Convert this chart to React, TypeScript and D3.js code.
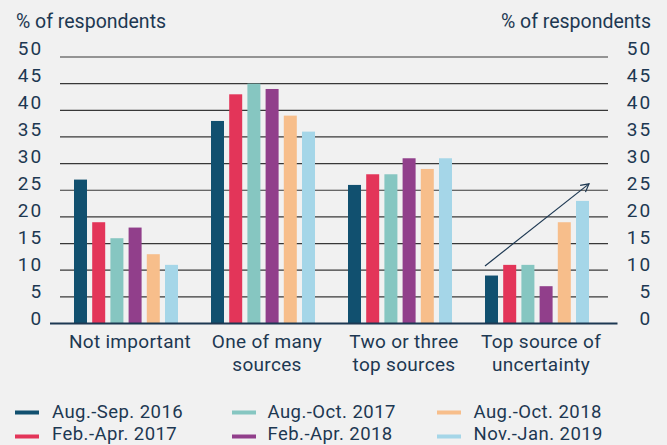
import React from "react";
import * as d3 from "d3";

const categories = [
  ["Not important"],
  ["One of many", "sources"],
  ["Two or three", "top sources"],
  ["Top source of", "uncertainty"],
];
const seriesNames = [
  "Aug.-Sep. 2016",
  "Feb.-Apr. 2017",
  "Aug.-Oct. 2017",
  "Feb.-Apr. 2018",
  "Aug.-Oct. 2018",
  "Nov.-Jan. 2019",
];
const seriesColors = ["#11506f", "#e33559", "#86c6c1", "#913f8b", "#f7be8b", "#a5d6e8"];
const values = [
  [27, 38, 26, 9],
  [19, 43, 28, 11],
  [16, 45, 28, 11],
  [18, 44, 31, 7],
  [13, 39, 29, 19],
  [11, 36, 31, 23],
];
const yTicks = [0, 5, 10, 15, 20, 25, 30, 35, 40, 45, 50];
// trend arrow over the last category: from first series to last series
const arrowFrom = { cat: 3, series: 0, value: 10.8 };
const arrowTo = { cat: 3, series: 5, value: 26.2 };

const W = 667;
const H = 445;
const TEXT = "#1d3852";
const FONT = "Roboto, 'Open Sans', sans-serif";

export default function App() {
  const x = d3.scaleBand<number>().domain(d3.range(4)).range([57.5, 605.5]).padding(0);
  const inner = d3
    .scaleBand<number>()
    .domain(d3.range(6))
    .range([0, 104])
    .paddingInner(0.286)
    .paddingOuter(0);
  const y = d3.scaleLinear().domain([0, 50]).range([323.5, 57]);
  const yLabel = d3.scaleLinear().domain([0, 50]).range([325, 55]);
  const groupOffset = (x.bandwidth() - 104) / 2;
  const bx = (c: number, s: number) => (x(c) as number) + groupOffset + (inner(s) as number);

  const ax1 = bx(arrowFrom.cat, arrowFrom.series);
  const ay1 = y(arrowFrom.value);
  const ax2 = bx(arrowTo.cat, arrowTo.series) + inner.bandwidth();
  const ay2 = y(arrowTo.value);
  const ang = Math.atan2(ay2 - ay1, ax2 - ax1);
  const hl = 9;
  const ha = 0.5;
  const head = [
    [ax2 - hl * Math.cos(ang - ha), ay2 - hl * Math.sin(ang - ha)],
    [ax2, ay2],
    [ax2 - hl * Math.cos(ang + ha), ay2 - hl * Math.sin(ang + ha)],
  ];

  const legendSwatchX = [15, 232, 437];
  const legendTextX = [52, 267.5, 473.5];
  const legendRows = [412.5, 436.5];
  const legendBaselines = [417.5, 440];

  return (
    <svg
      width={W}
      height={H}
      style={{ position: "absolute", left: 0, top: 0, display: "block" }}
      fontFamily={FONT}
    >
      <rect width={W} height={H} fill="#f1f1f1" />
      {/* titles */}
      <text x={16} y={27.5} fontSize={19.5} fill={TEXT}>
        % of respondents
      </text>
      <text x={651} y={27.5} fontSize={19.5} fill={TEXT} textAnchor="end">
        % of respondents
      </text>
      {/* gridlines */}
      {yTicks.filter((t) => t > 0).map((t) => (
        <line key={t} x1={60} x2={608} y1={y(t)} y2={y(t)} stroke="#383838" strokeWidth={1.2} />
      ))}
      {/* tick labels */}
      {yTicks.map((t) => (
        <g key={"l" + t}>
          <text x={43.5} y={yLabel(t)} fontSize={19} fill={TEXT} textAnchor="end" letterSpacing={2.2}>
            {t}
          </text>
          <text x={652.5} y={yLabel(t)} fontSize={19} fill={TEXT} textAnchor="end" letterSpacing={2.2}>
            {t}
          </text>
        </g>
      ))}
      {/* bars */}
      {values.map((row, s) =>
        row.map((v, c) => (
          <rect
            key={s + "-" + c}
            x={bx(c, s)}
            y={y(v)}
            width={inner.bandwidth()}
            height={y(0) - y(v)}
            fill={seriesColors[s]}
          />
        ))
      )}
      {/* baseline */}
      <line x1={50} x2={617.5} y1={y(0)} y2={y(0)} stroke="#1d3852" strokeWidth={2} />
      {/* arrow */}
      <line x1={ax1} y1={ay1} x2={ax2} y2={ay2} stroke="#1d3852" strokeWidth={1.2} />
      <polyline
        points={head.map((p) => p.join(",")).join(" ")}
        fill="none"
        stroke="#1d3852"
        strokeWidth={1.2}
      />
      {/* category labels */}
      {categories.map((lines, c) => {
        const cx = (x(c) as number) + x.bandwidth() / 2 + 4;
        return (
          <text
            key={"c" + c}
            x={cx}
            y={348}
            fontSize={19}
            fill={TEXT}
            textAnchor="middle"
            letterSpacing={0.3}
          >
            {lines.map((ln, i) => (
              <tspan key={i} x={cx} dy={i === 0 ? 0 : 22.5}>
                {ln}
              </tspan>
            ))}
          </text>
        );
      })}
      {/* legend */}
      {seriesNames.map((name, i) => {
        const col = Math.floor(i / 2);
        const row = i % 2;
        const ly = legendRows[row];
        return (
          <g key={"lg" + i}>
            <rect x={legendSwatchX[col]} y={ly - 2} width={24} height={4} fill={seriesColors[i]} />
            <text x={legendTextX[col]} y={legendBaselines[row]} fontSize={18.5} fill={TEXT} letterSpacing={0.45}>
              {name}
            </text>
          </g>
        );
      })}
    </svg>
  );
}
